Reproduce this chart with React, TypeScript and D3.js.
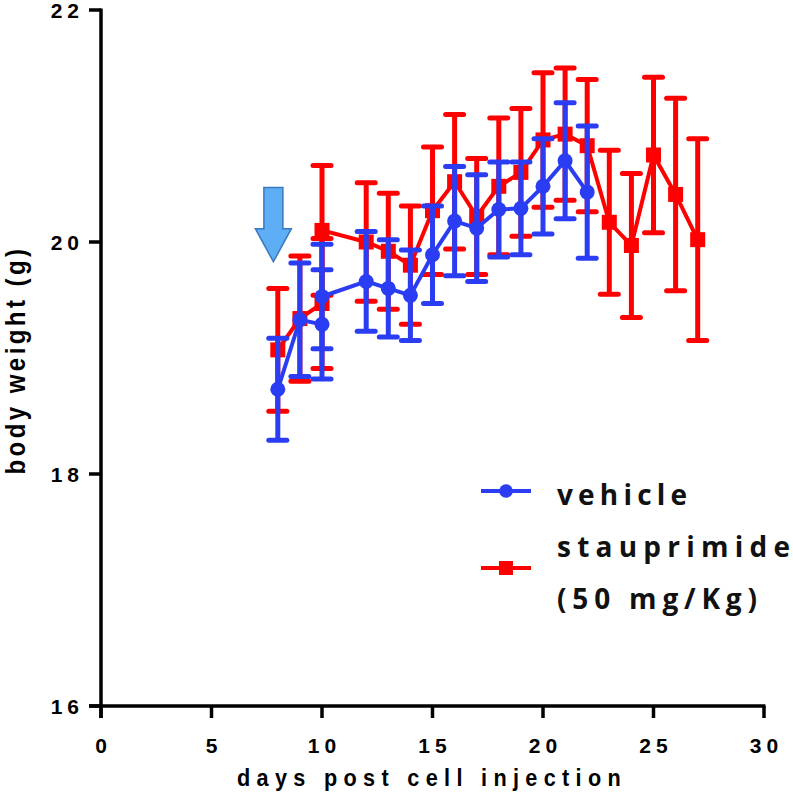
import React from "react";
import * as d3 from "d3";

// ---- data ----
const vehicleDays = [8, 9, 10, 10, 12, 13, 14, 15, 16, 17, 18, 19, 20, 21, 22];
const vehicleMean = [18.73, 19.33, 19.29, 19.53, 19.66, 19.6, 19.54, 19.89, 20.18, 20.12, 20.28, 20.29, 20.48, 20.7, 20.43];
const vehicleErr = [0.44, 0.49, 0.47, 0.45, 0.43, 0.42, 0.39, 0.42, 0.47, 0.46, 0.41, 0.4, 0.41, 0.5, 0.57];

const stauDays = [8, 9, 10, 10, 12, 13, 14, 15, 16, 17, 18, 19, 20, 21, 22, 23, 24, 25, 26, 27];
const stauMean = [19.07, 19.34, 19.47, 20.1, 20.0, 19.92, 19.8, 20.27, 20.52, 20.22, 20.48, 20.6, 20.88, 20.93, 20.83, 20.17, 19.97, 20.75, 20.41, 20.02];
const stauErr = [0.53, 0.54, 0.56, 0.56, 0.51, 0.5, 0.51, 0.55, 0.58, 0.5, 0.59, 0.55, 0.58, 0.57, 0.57, 0.62, 0.62, 0.67, 0.83, 0.87];

const xTicks = [0, 5, 10, 15, 20, 25, 30];
const yTicks = [16, 18, 20, 22];
const xTitle = "days post cell injection";
const yTitle = "body weight (g)";
const legendLabels = ["vehicle", "stauprimide", "(50 mg/Kg)"];
const arrowDay = 7.8;
const arrowTop = 20.47;
const arrowTip = 19.83;

const BLUE = "#2b3df2";
const RED = "#ff0000";

const x = d3.scaleLinear().domain([0, 30]).range([101, 764]);
const y = d3.scaleLinear().domain([16, 22]).range([706, 10]);

type Pt = { d: number; m: number; e: number };
const zipSeries = (days: number[], mean: number[], err: number[]): Pt[] =>
  days.map((d, i) => ({ d, m: mean[i], e: err[i] }));

const vehicle = zipSeries(vehicleDays, vehicleMean, vehicleErr);
const stau = zipSeries(stauDays, stauMean, stauErr);

const line = d3
  .line<Pt>()
  .x((p) => x(p.d))
  .y((p) => y(p.m));

function ErrorBars({ data, color }: { data: Pt[]; color: string }) {
  const cap = 9;
  return (
    <g stroke={color} strokeWidth={5} strokeLinecap="round">
      {data.map((p, i) => (
        <g key={i}>
          <line x1={x(p.d)} x2={x(p.d)} y1={y(p.m + p.e)} y2={y(p.m - p.e)} strokeLinecap="butt" />
          <line x1={x(p.d) - cap} x2={x(p.d) + cap} y1={y(p.m + p.e)} y2={y(p.m + p.e)} />
          <line x1={x(p.d) - cap} x2={x(p.d) + cap} y1={y(p.m - p.e)} y2={y(p.m - p.e)} />
        </g>
      ))}
    </g>
  );
}

export default function App() {
  const axisFont = "'Liberation Sans', Arial, sans-serif";
  const legendFont = "'Open Sans', Lato, sans-serif";
  const ax = x(arrowDay);
  const aTop = y(arrowTop);
  const aTip = y(arrowTip);
  const aHeadY = aTip - 33;
  const arrowPath = `M${ax - 9.5},${aTop} L${ax + 9.5},${aTop} L${ax + 9.5},${aHeadY} L${ax + 18},${aHeadY} L${ax},${aTip} L${ax - 18},${aHeadY} L${ax - 9.5},${aHeadY} Z`;

  return (
    <svg
      width={793}
      height={800}
      style={{ position: "absolute", left: 0, top: 0, background: "#fff" }}
    >
      <rect x={0} y={0} width={793} height={800} fill="#fff" />

      {/* axes */}
      <g stroke="#000" strokeWidth={3.5}>
        <line x1={x(0)} x2={x(0)} y1={y(22) - 1.5} y2={y(16) + 12} />
        <line x1={x(0) - 12} x2={x(30) + 1.5} y1={y(16)} y2={y(16)} />
        {yTicks.map((t) => (
          <line key={t} x1={x(0) - 12} x2={x(0)} y1={y(t)} y2={y(t)} />
        ))}
        {xTicks.map((t) => (
          <line key={t} x1={x(t)} x2={x(t)} y1={y(16)} y2={y(16) + 12} />
        ))}
      </g>
      <g fontFamily={axisFont} fontWeight="bold" fill="#000">
        {yTicks.map((t) => (
          <text
            key={t}
            x={x(0) - 17}
            y={y(t)}
            dy="0.36em"
            textAnchor="end"
            fontSize={21}
            letterSpacing={5}
          >
            {t}
          </text>
        ))}
        {xTicks.map((t) => (
          <text key={t} x={x(t) + 2.5} y={y(16) + 47} textAnchor="middle" letterSpacing={5} fontSize={21}>
            {t}
          </text>
        ))}
      </g>
      <text
        x={432}
        y={786}
        textAnchor="middle"
        fontFamily={axisFont}
        fontWeight="bold"
        fontSize={24}
        letterSpacing={7}
        textLength={390}
        lengthAdjust="spacingAndGlyphs"
      >
        {xTitle}
      </text>
      <text
        transform="translate(25,360) rotate(-90)"
        textAnchor="middle"
        fontFamily={axisFont}
        fontWeight="bold"
        fontSize={28}
        letterSpacing={4}
        textLength={229}
        lengthAdjust="spacingAndGlyphs"
      >
        {yTitle}
      </text>

      {/* arrow */}
      <path d={arrowPath} fill="#5eaef5" stroke="#3a78c0" strokeWidth={1.5} strokeLinejoin="miter" />

      {/* stauprimide */}
      <ErrorBars data={stau} color={RED} />
      <path d={line(stau) || ""} fill="none" stroke={RED} strokeWidth={4} />
      {stau.map((p, i) => (
        <rect key={i} x={x(p.d) - 7.5} y={y(p.m) - 7.5} width={15} height={15} fill={RED} />
      ))}

      {/* vehicle */}
      <ErrorBars data={vehicle} color={BLUE} />
      <path d={line(vehicle) || ""} fill="none" stroke={BLUE} strokeWidth={4} />
      {vehicle.map((p, i) => (
        <circle key={i} cx={x(p.d)} cy={y(p.m)} r={7.5} fill={BLUE} />
      ))}

      {/* legend */}
      <g>
        <line x1={481} x2={531} y1={491} y2={491} stroke={BLUE} strokeWidth={4} />
        <circle cx={506} cy={491} r={6.8} fill={BLUE} />
        <line x1={481} x2={531} y1={568} y2={568} stroke={RED} strokeWidth={4} />
        <rect x={499} y={561} width={14} height={14} fill={RED} />
      </g>
      <g fontFamily={legendFont} fontWeight="bold" fontSize={28} fill="#111">
        <text x={557} y={505} textLength={130} lengthAdjust="spacing">
          {legendLabels[0]}
        </text>
        <text x={557} y={557} textLength={233} lengthAdjust="spacing">
          {legendLabels[1]}
        </text>
        <text x={557} y={609} textLength={200} lengthAdjust="spacing">
          {legendLabels[2]}
        </text>
      </g>
    </svg>
  );
}
